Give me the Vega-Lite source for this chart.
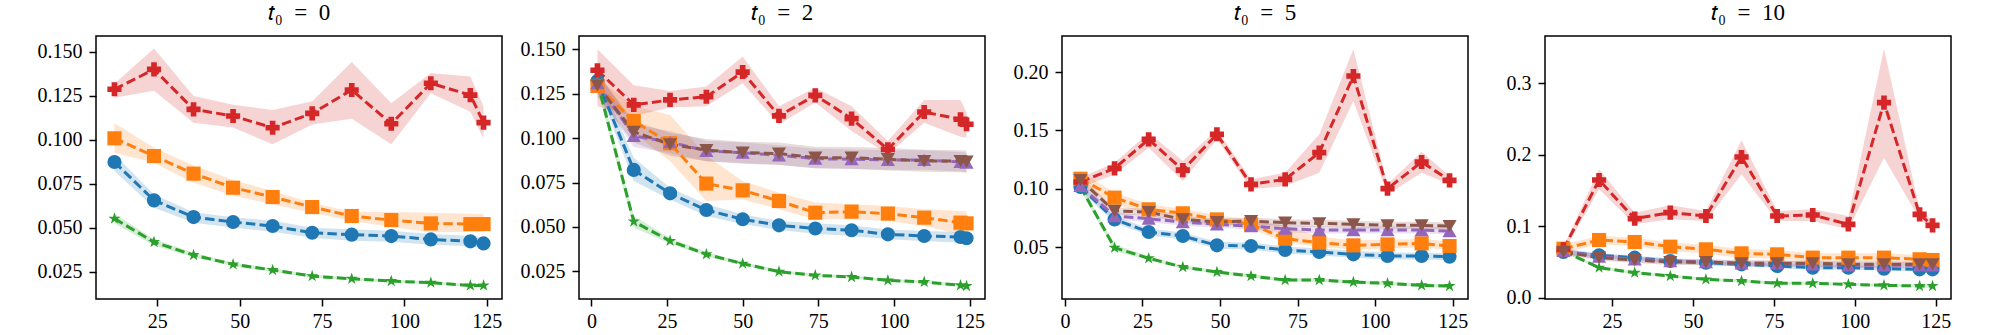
{
  "$schema": "https://vega.github.io/schema/vega-lite/v6.json",
  "padding": {"left": 36, "top": 1, "right": 5, "bottom": 5},
  "background": "white",
  "config": {
    "view": {"stroke": "black", "strokeWidth": 1.5},
    "axis": {"grid": false, "domain": false, "tickColor": "black", "tickWidth": 1.5, "tickSize": 7, "labelFont": "Liberation Serif", "labelFontSize": 20, "labelColor": "black"},
    "title": {"font": "Liberation Serif", "fontSize": 23, "fontWeight": "normal", "color": "black", "baseline": "alphabetic", "offset": 11}
  },
  "datasets": {
    "d": [
      {"p":"0","s":"A","x":12,"y":0.0874,"lo":0.0823,"hi":0.0918},
      {"p":"0","s":"A","x":24,"y":0.0656,"lo":0.0614,"hi":0.0690},
      {"p":"0","s":"A","x":36,"y":0.0561,"lo":0.0529,"hi":0.0589},
      {"p":"0","s":"A","x":48,"y":0.0533,"lo":0.0502,"hi":0.0560},
      {"p":"0","s":"A","x":60,"y":0.0510,"lo":0.0478,"hi":0.0540},
      {"p":"0","s":"A","x":72,"y":0.0472,"lo":0.0443,"hi":0.0500},
      {"p":"0","s":"A","x":84,"y":0.0461,"lo":0.0427,"hi":0.0492},
      {"p":"0","s":"A","x":96,"y":0.0453,"lo":0.0420,"hi":0.0483},
      {"p":"0","s":"A","x":108,"y":0.0434,"lo":0.0403,"hi":0.0465},
      {"p":"0","s":"A","x":120,"y":0.0423,"lo":0.0395,"hi":0.0455},
      {"p":"0","s":"A","x":124,"y":0.0411,"lo":0.0383,"hi":0.0445},
      {"p":"0","s":"B","x":12,"y":0.1009,"lo":0.0927,"hi":0.1094},
      {"p":"0","s":"B","x":24,"y":0.0908,"lo":0.0870,"hi":0.0956},
      {"p":"0","s":"B","x":36,"y":0.0808,"lo":0.0756,"hi":0.0855},
      {"p":"0","s":"B","x":48,"y":0.0728,"lo":0.0684,"hi":0.0772},
      {"p":"0","s":"B","x":60,"y":0.0675,"lo":0.0633,"hi":0.0709},
      {"p":"0","s":"B","x":72,"y":0.0618,"lo":0.0586,"hi":0.0643},
      {"p":"0","s":"B","x":84,"y":0.0567,"lo":0.0538,"hi":0.0590},
      {"p":"0","s":"B","x":96,"y":0.0544,"lo":0.0506,"hi":0.0590},
      {"p":"0","s":"B","x":108,"y":0.0525,"lo":0.0475,"hi":0.0586},
      {"p":"0","s":"B","x":120,"y":0.0521,"lo":0.0478,"hi":0.0580},
      {"p":"0","s":"B","x":124,"y":0.0521,"lo":0.0480,"hi":0.0578},
      {"p":"0","s":"C","x":12,"y":0.0552,"lo":0.0525,"hi":0.0580},
      {"p":"0","s":"C","x":24,"y":0.0419,"lo":0.0400,"hi":0.0437},
      {"p":"0","s":"C","x":36,"y":0.0345,"lo":0.0332,"hi":0.0358},
      {"p":"0","s":"C","x":48,"y":0.0292,"lo":0.0281,"hi":0.0303},
      {"p":"0","s":"C","x":60,"y":0.0260,"lo":0.0250,"hi":0.0270},
      {"p":"0","s":"C","x":72,"y":0.0225,"lo":0.0216,"hi":0.0234},
      {"p":"0","s":"C","x":84,"y":0.0210,"lo":0.0202,"hi":0.0218},
      {"p":"0","s":"C","x":96,"y":0.0197,"lo":0.0189,"hi":0.0205},
      {"p":"0","s":"C","x":108,"y":0.0188,"lo":0.0180,"hi":0.0196},
      {"p":"0","s":"C","x":120,"y":0.0172,"lo":0.0165,"hi":0.0179},
      {"p":"0","s":"C","x":124,"y":0.0172,"lo":0.0165,"hi":0.0179},
      {"p":"0","s":"D","x":12,"y":0.1288,"lo":0.1240,"hi":0.1320},
      {"p":"0","s":"D","x":24,"y":0.1401,"lo":0.1280,"hi":0.1520},
      {"p":"0","s":"D","x":36,"y":0.1174,"lo":0.1098,"hi":0.1250},
      {"p":"0","s":"D","x":48,"y":0.1136,"lo":0.1070,"hi":0.1200},
      {"p":"0","s":"D","x":60,"y":0.1069,"lo":0.0975,"hi":0.1170},
      {"p":"0","s":"D","x":72,"y":0.1151,"lo":0.1088,"hi":0.1220},
      {"p":"0","s":"D","x":84,"y":0.1284,"lo":0.1120,"hi":0.1443},
      {"p":"0","s":"D","x":96,"y":0.1092,"lo":0.0975,"hi":0.1208},
      {"p":"0","s":"D","x":108,"y":0.1322,"lo":0.1265,"hi":0.1380},
      {"p":"0","s":"D","x":120,"y":0.1255,"lo":0.1160,"hi":0.1360},
      {"p":"0","s":"D","x":124,"y":0.1098,"lo":0.1007,"hi":0.1190},

      {"p":"2","s":"A","x":2,"y":0.1322,"lo":0.1284,"hi":0.1360},
      {"p":"2","s":"A","x":14,"y":0.0821,"lo":0.0759,"hi":0.0890},
      {"p":"2","s":"A","x":26,"y":0.0689,"lo":0.0655,"hi":0.0721},
      {"p":"2","s":"A","x":38,"y":0.0595,"lo":0.0561,"hi":0.0627},
      {"p":"2","s":"A","x":50,"y":0.0543,"lo":0.0515,"hi":0.0571},
      {"p":"2","s":"A","x":62,"y":0.0509,"lo":0.0483,"hi":0.0533},
      {"p":"2","s":"A","x":74,"y":0.0491,"lo":0.0462,"hi":0.0520},
      {"p":"2","s":"A","x":86,"y":0.0481,"lo":0.0449,"hi":0.0509},
      {"p":"2","s":"A","x":98,"y":0.0458,"lo":0.0430,"hi":0.0486},
      {"p":"2","s":"A","x":110,"y":0.0449,"lo":0.0421,"hi":0.0477},
      {"p":"2","s":"A","x":122,"y":0.0443,"lo":0.0411,"hi":0.0471},
      {"p":"2","s":"A","x":124,"y":0.0436,"lo":0.0408,"hi":0.0466},
      {"p":"2","s":"B","x":2,"y":0.1294,"lo":0.1256,"hi":0.1340},
      {"p":"2","s":"B","x":14,"y":0.1096,"lo":0.1030,"hi":0.1180},
      {"p":"2","s":"B","x":26,"y":0.0971,"lo":0.0870,"hi":0.1130},
      {"p":"2","s":"B","x":38,"y":0.0744,"lo":0.0646,"hi":0.0900},
      {"p":"2","s":"B","x":50,"y":0.0706,"lo":0.0655,"hi":0.0759},
      {"p":"2","s":"B","x":62,"y":0.0646,"lo":0.0600,"hi":0.0693},
      {"p":"2","s":"B","x":74,"y":0.0580,"lo":0.0543,"hi":0.0637},
      {"p":"2","s":"B","x":86,"y":0.0586,"lo":0.0543,"hi":0.0627},
      {"p":"2","s":"B","x":98,"y":0.0575,"lo":0.0533,"hi":0.0618},
      {"p":"2","s":"B","x":110,"y":0.0552,"lo":0.0505,"hi":0.0599},
      {"p":"2","s":"B","x":122,"y":0.0524,"lo":0.0458,"hi":0.0590},
      {"p":"2","s":"B","x":124,"y":0.0520,"lo":0.0455,"hi":0.0588},
      {"p":"2","s":"C","x":2,"y":0.1316,"lo":0.1275,"hi":0.1350},
      {"p":"2","s":"C","x":14,"y":0.0530,"lo":0.0496,"hi":0.0562},
      {"p":"2","s":"C","x":26,"y":0.0421,"lo":0.0405,"hi":0.0437},
      {"p":"2","s":"C","x":38,"y":0.0346,"lo":0.0334,"hi":0.0358},
      {"p":"2","s":"C","x":50,"y":0.0293,"lo":0.0283,"hi":0.0303},
      {"p":"2","s":"C","x":62,"y":0.0248,"lo":0.0239,"hi":0.0257},
      {"p":"2","s":"C","x":74,"y":0.0227,"lo":0.0219,"hi":0.0235},
      {"p":"2","s":"C","x":86,"y":0.0218,"lo":0.0210,"hi":0.0226},
      {"p":"2","s":"C","x":98,"y":0.0199,"lo":0.0191,"hi":0.0207},
      {"p":"2","s":"C","x":110,"y":0.0190,"lo":0.0182,"hi":0.0198},
      {"p":"2","s":"C","x":122,"y":0.0171,"lo":0.0164,"hi":0.0178},
      {"p":"2","s":"C","x":124,"y":0.0167,"lo":0.0160,"hi":0.0174},
      {"p":"2","s":"D","x":2,"y":0.1382,"lo":0.1180,"hi":0.1500},
      {"p":"2","s":"D","x":14,"y":0.1187,"lo":0.1125,"hi":0.1297},
      {"p":"2","s":"D","x":26,"y":0.1215,"lo":0.1172,"hi":0.1265},
      {"p":"2","s":"D","x":38,"y":0.1233,"lo":0.1180,"hi":0.1290},
      {"p":"2","s":"D","x":50,"y":0.1372,"lo":0.1309,"hi":0.1459},
      {"p":"2","s":"D","x":62,"y":0.1125,"lo":0.1078,"hi":0.1180},
      {"p":"2","s":"D","x":74,"y":0.1241,"lo":0.1200,"hi":0.1284},
      {"p":"2","s":"D","x":86,"y":0.1110,"lo":0.1040,"hi":0.1180},
      {"p":"2","s":"D","x":98,"y":0.0937,"lo":0.0909,"hi":0.0984},
      {"p":"2","s":"D","x":110,"y":0.1147,"lo":0.1087,"hi":0.1215},
      {"p":"2","s":"D","x":122,"y":0.1106,"lo":0.1008,"hi":0.1215},
      {"p":"2","s":"D","x":124,"y":0.1078,"lo":0.1003,"hi":0.1143},
      {"p":"2","s":"E","x":2,"y":0.1309,"lo":0.1250,"hi":0.1370},
      {"p":"2","s":"E","x":14,"y":0.1012,"lo":0.0950,"hi":0.1075},
      {"p":"2","s":"E","x":26,"y":0.0978,"lo":0.0915,"hi":0.1040},
      {"p":"2","s":"E","x":38,"y":0.0928,"lo":0.0870,"hi":0.0985},
      {"p":"2","s":"E","x":50,"y":0.0918,"lo":0.0860,"hi":0.0975},
      {"p":"2","s":"E","x":62,"y":0.0903,"lo":0.0848,"hi":0.0960},
      {"p":"2","s":"E","x":74,"y":0.0884,"lo":0.0830,"hi":0.0940},
      {"p":"2","s":"E","x":86,"y":0.0881,"lo":0.0826,"hi":0.0936},
      {"p":"2","s":"E","x":98,"y":0.0877,"lo":0.0822,"hi":0.0932},
      {"p":"2","s":"E","x":110,"y":0.0877,"lo":0.0822,"hi":0.0932},
      {"p":"2","s":"E","x":122,"y":0.0866,"lo":0.0812,"hi":0.0922},
      {"p":"2","s":"E","x":124,"y":0.0862,"lo":0.0808,"hi":0.0918},
      {"p":"2","s":"F","x":2,"y":0.1297,"lo":0.1230,"hi":0.1365},
      {"p":"2","s":"F","x":14,"y":0.1035,"lo":0.0975,"hi":0.1095},
      {"p":"2","s":"F","x":26,"y":0.0965,"lo":0.0900,"hi":0.1030},
      {"p":"2","s":"F","x":38,"y":0.0933,"lo":0.0870,"hi":0.0995},
      {"p":"2","s":"F","x":50,"y":0.0918,"lo":0.0855,"hi":0.0980},
      {"p":"2","s":"F","x":62,"y":0.0913,"lo":0.0850,"hi":0.0975},
      {"p":"2","s":"F","x":74,"y":0.0890,"lo":0.0830,"hi":0.0952},
      {"p":"2","s":"F","x":86,"y":0.0890,"lo":0.0828,"hi":0.0950},
      {"p":"2","s":"F","x":98,"y":0.0881,"lo":0.0818,"hi":0.0944},
      {"p":"2","s":"F","x":110,"y":0.0871,"lo":0.0810,"hi":0.0934},
      {"p":"2","s":"F","x":122,"y":0.0871,"lo":0.0808,"hi":0.0932},
      {"p":"2","s":"F","x":124,"y":0.0867,"lo":0.0805,"hi":0.0930},

      {"p":"5","s":"A","x":5,"y":0.1016,"lo":0.0986,"hi":0.1046},
      {"p":"5","s":"A","x":16,"y":0.0739,"lo":0.0709,"hi":0.0769},
      {"p":"5","s":"A","x":27,"y":0.0631,"lo":0.0601,"hi":0.0661},
      {"p":"5","s":"A","x":38,"y":0.0597,"lo":0.0567,"hi":0.0627},
      {"p":"5","s":"A","x":49,"y":0.0517,"lo":0.0487,"hi":0.0547},
      {"p":"5","s":"A","x":60,"y":0.0511,"lo":0.0481,"hi":0.0541},
      {"p":"5","s":"A","x":71,"y":0.0477,"lo":0.0447,"hi":0.0507},
      {"p":"5","s":"A","x":82,"y":0.0460,"lo":0.0430,"hi":0.0490},
      {"p":"5","s":"A","x":93,"y":0.0440,"lo":0.0410,"hi":0.0470},
      {"p":"5","s":"A","x":104,"y":0.0426,"lo":0.0396,"hi":0.0456},
      {"p":"5","s":"A","x":115,"y":0.0426,"lo":0.0396,"hi":0.0456},
      {"p":"5","s":"A","x":124,"y":0.0420,"lo":0.0390,"hi":0.0450},
      {"p":"5","s":"B","x":5,"y":0.1087,"lo":0.1025,"hi":0.1153},
      {"p":"5","s":"B","x":16,"y":0.0925,"lo":0.0868,"hi":0.0967},
      {"p":"5","s":"B","x":27,"y":0.0825,"lo":0.0782,"hi":0.0868},
      {"p":"5","s":"B","x":38,"y":0.0791,"lo":0.0755,"hi":0.0830},
      {"p":"5","s":"B","x":49,"y":0.0739,"lo":0.0705,"hi":0.0775},
      {"p":"5","s":"B","x":60,"y":0.0697,"lo":0.0660,"hi":0.0735},
      {"p":"5","s":"B","x":71,"y":0.0574,"lo":0.0540,"hi":0.0690},
      {"p":"5","s":"B","x":82,"y":0.0540,"lo":0.0505,"hi":0.0590},
      {"p":"5","s":"B","x":93,"y":0.0517,"lo":0.0480,"hi":0.0560},
      {"p":"5","s":"B","x":104,"y":0.0525,"lo":0.0490,"hi":0.0565},
      {"p":"5","s":"B","x":115,"y":0.0534,"lo":0.0498,"hi":0.0572},
      {"p":"5","s":"B","x":124,"y":0.0511,"lo":0.0475,"hi":0.0550},
      {"p":"5","s":"C","x":5,"y":0.1019,"lo":0.0989,"hi":0.1049},
      {"p":"5","s":"C","x":16,"y":0.0497,"lo":0.0467,"hi":0.0527},
      {"p":"5","s":"C","x":27,"y":0.0406,"lo":0.0391,"hi":0.0421},
      {"p":"5","s":"C","x":38,"y":0.0331,"lo":0.0316,"hi":0.0346},
      {"p":"5","s":"C","x":49,"y":0.0289,"lo":0.0274,"hi":0.0304},
      {"p":"5","s":"C","x":60,"y":0.0254,"lo":0.0239,"hi":0.0269},
      {"p":"5","s":"C","x":71,"y":0.0220,"lo":0.0205,"hi":0.0235},
      {"p":"5","s":"C","x":82,"y":0.0220,"lo":0.0205,"hi":0.0235},
      {"p":"5","s":"C","x":93,"y":0.0203,"lo":0.0188,"hi":0.0218},
      {"p":"5","s":"C","x":104,"y":0.0192,"lo":0.0177,"hi":0.0207},
      {"p":"5","s":"C","x":115,"y":0.0175,"lo":0.0160,"hi":0.0190},
      {"p":"5","s":"C","x":124,"y":0.0169,"lo":0.0154,"hi":0.0184},
      {"p":"5","s":"D","x":5,"y":0.1059,"lo":0.1010,"hi":0.1096},
      {"p":"5","s":"D","x":16,"y":0.1176,"lo":0.1124,"hi":0.1224},
      {"p":"5","s":"D","x":27,"y":0.1424,"lo":0.1353,"hi":0.1481},
      {"p":"5","s":"D","x":38,"y":0.1161,"lo":0.1067,"hi":0.1238},
      {"p":"5","s":"D","x":49,"y":0.1467,"lo":0.1424,"hi":0.1509},
      {"p":"5","s":"D","x":60,"y":0.1039,"lo":0.0996,"hi":0.1082},
      {"p":"5","s":"D","x":71,"y":0.1082,"lo":0.1025,"hi":0.1139},
      {"p":"5","s":"D","x":82,"y":0.1310,"lo":0.1139,"hi":0.1467},
      {"p":"5","s":"D","x":93,"y":0.1966,"lo":0.1752,"hi":0.2194},
      {"p":"5","s":"D","x":104,"y":0.1002,"lo":0.0953,"hi":0.1039},
      {"p":"5","s":"D","x":115,"y":0.1230,"lo":0.1139,"hi":0.1318},
      {"p":"5","s":"D","x":124,"y":0.1073,"lo":0.1039,"hi":0.1110},
      {"p":"5","s":"E","x":5,"y":0.1025,"lo":0.0995,"hi":0.1055},
      {"p":"5","s":"E","x":16,"y":0.0768,"lo":0.0738,"hi":0.0798},
      {"p":"5","s":"E","x":27,"y":0.0745,"lo":0.0715,"hi":0.0775},
      {"p":"5","s":"E","x":38,"y":0.0716,"lo":0.0686,"hi":0.0746},
      {"p":"5","s":"E","x":49,"y":0.0697,"lo":0.0667,"hi":0.0727},
      {"p":"5","s":"E","x":60,"y":0.0682,"lo":0.0652,"hi":0.0712},
      {"p":"5","s":"E","x":71,"y":0.0659,"lo":0.0629,"hi":0.0689},
      {"p":"5","s":"E","x":82,"y":0.0648,"lo":0.0618,"hi":0.0678},
      {"p":"5","s":"E","x":93,"y":0.0648,"lo":0.0618,"hi":0.0678},
      {"p":"5","s":"E","x":104,"y":0.0648,"lo":0.0618,"hi":0.0678},
      {"p":"5","s":"E","x":115,"y":0.0648,"lo":0.0618,"hi":0.0678},
      {"p":"5","s":"E","x":124,"y":0.0639,"lo":0.0609,"hi":0.0669},
      {"p":"5","s":"F","x":5,"y":0.1076,"lo":0.1046,"hi":0.1106},
      {"p":"5","s":"F","x":16,"y":0.0811,"lo":0.0781,"hi":0.0841},
      {"p":"5","s":"F","x":27,"y":0.0802,"lo":0.0772,"hi":0.0832},
      {"p":"5","s":"F","x":38,"y":0.0739,"lo":0.0709,"hi":0.0769},
      {"p":"5","s":"F","x":49,"y":0.0716,"lo":0.0686,"hi":0.0746},
      {"p":"5","s":"F","x":60,"y":0.0725,"lo":0.0695,"hi":0.0755},
      {"p":"5","s":"F","x":71,"y":0.0711,"lo":0.0681,"hi":0.0741},
      {"p":"5","s":"F","x":82,"y":0.0705,"lo":0.0675,"hi":0.0735},
      {"p":"5","s":"F","x":93,"y":0.0697,"lo":0.0667,"hi":0.0727},
      {"p":"5","s":"F","x":104,"y":0.0688,"lo":0.0658,"hi":0.0718},
      {"p":"5","s":"F","x":115,"y":0.0688,"lo":0.0658,"hi":0.0718},
      {"p":"5","s":"F","x":124,"y":0.0682,"lo":0.0652,"hi":0.0712},

      {"p":"10","s":"A","x":10,"y":0.0642,"lo":0.0612,"hi":0.0672},
      {"p":"10","s":"A","x":21,"y":0.0595,"lo":0.0565,"hi":0.0625},
      {"p":"10","s":"A","x":32,"y":0.0563,"lo":0.0533,"hi":0.0593},
      {"p":"10","s":"A","x":43,"y":0.0516,"lo":0.0486,"hi":0.0546},
      {"p":"10","s":"A","x":54,"y":0.0493,"lo":0.0463,"hi":0.0523},
      {"p":"10","s":"A","x":65,"y":0.0470,"lo":0.0440,"hi":0.0500},
      {"p":"10","s":"A","x":76,"y":0.0447,"lo":0.0417,"hi":0.0477},
      {"p":"10","s":"A","x":87,"y":0.0423,"lo":0.0393,"hi":0.0453},
      {"p":"10","s":"A","x":98,"y":0.0423,"lo":0.0393,"hi":0.0453},
      {"p":"10","s":"A","x":109,"y":0.0409,"lo":0.0379,"hi":0.0439},
      {"p":"10","s":"A","x":120,"y":0.0400,"lo":0.0370,"hi":0.0430},
      {"p":"10","s":"A","x":124,"y":0.0400,"lo":0.0370,"hi":0.0430},
      {"p":"10","s":"B","x":10,"y":0.0688,"lo":0.0628,"hi":0.0748},
      {"p":"10","s":"B","x":21,"y":0.0809,"lo":0.0749,"hi":0.0869},
      {"p":"10","s":"B","x":32,"y":0.0781,"lo":0.0721,"hi":0.0841},
      {"p":"10","s":"B","x":43,"y":0.0716,"lo":0.0656,"hi":0.0776},
      {"p":"10","s":"B","x":54,"y":0.0679,"lo":0.0619,"hi":0.0739},
      {"p":"10","s":"B","x":65,"y":0.0623,"lo":0.0563,"hi":0.0683},
      {"p":"10","s":"B","x":76,"y":0.0609,"lo":0.0549,"hi":0.0669},
      {"p":"10","s":"B","x":87,"y":0.0563,"lo":0.0503,"hi":0.0623},
      {"p":"10","s":"B","x":98,"y":0.0563,"lo":0.0503,"hi":0.0623},
      {"p":"10","s":"B","x":109,"y":0.0563,"lo":0.0503,"hi":0.0623},
      {"p":"10","s":"B","x":120,"y":0.0540,"lo":0.0480,"hi":0.0600},
      {"p":"10","s":"B","x":124,"y":0.0530,"lo":0.0470,"hi":0.0590},
      {"p":"10","s":"C","x":10,"y":0.0656,"lo":0.0636,"hi":0.0676},
      {"p":"10","s":"C","x":21,"y":0.0423,"lo":0.0403,"hi":0.0443},
      {"p":"10","s":"C","x":32,"y":0.0353,"lo":0.0333,"hi":0.0373},
      {"p":"10","s":"C","x":43,"y":0.0307,"lo":0.0287,"hi":0.0327},
      {"p":"10","s":"C","x":54,"y":0.0260,"lo":0.0240,"hi":0.0280},
      {"p":"10","s":"C","x":65,"y":0.0237,"lo":0.0217,"hi":0.0257},
      {"p":"10","s":"C","x":76,"y":0.0205,"lo":0.0185,"hi":0.0225},
      {"p":"10","s":"C","x":87,"y":0.0205,"lo":0.0185,"hi":0.0225},
      {"p":"10","s":"C","x":98,"y":0.0191,"lo":0.0171,"hi":0.0211},
      {"p":"10","s":"C","x":109,"y":0.0177,"lo":0.0157,"hi":0.0197},
      {"p":"10","s":"C","x":120,"y":0.0167,"lo":0.0147,"hi":0.0187},
      {"p":"10","s":"C","x":124,"y":0.0167,"lo":0.0147,"hi":0.0187},
      {"p":"10","s":"D","x":10,"y":0.0679,"lo":0.0640,"hi":0.0720},
      {"p":"10","s":"D","x":21,"y":0.1647,"lo":0.1516,"hi":0.1795},
      {"p":"10","s":"D","x":32,"y":0.1107,"lo":0.1028,"hi":0.1191},
      {"p":"10","s":"D","x":43,"y":0.1191,"lo":0.1098,"hi":0.1293},
      {"p":"10","s":"D","x":54,"y":0.1144,"lo":0.1074,"hi":0.1214},
      {"p":"10","s":"D","x":65,"y":0.1967,"lo":0.1726,"hi":0.2200},
      {"p":"10","s":"D","x":76,"y":0.1144,"lo":0.1074,"hi":0.1214},
      {"p":"10","s":"D","x":87,"y":0.1158,"lo":0.1074,"hi":0.1237},
      {"p":"10","s":"D","x":98,"y":0.1028,"lo":0.0958,"hi":0.1144},
      {"p":"10","s":"D","x":109,"y":0.2726,"lo":0.1958,"hi":0.3479},
      {"p":"10","s":"D","x":120,"y":0.1167,"lo":0.1098,"hi":0.1237},
      {"p":"10","s":"D","x":124,"y":0.1014,"lo":0.0949,"hi":0.1074},
      {"p":"10","s":"E","x":10,"y":0.0656,"lo":0.0616,"hi":0.0696},
      {"p":"10","s":"E","x":21,"y":0.0577,"lo":0.0537,"hi":0.0617},
      {"p":"10","s":"E","x":32,"y":0.0540,"lo":0.0500,"hi":0.0580},
      {"p":"10","s":"E","x":43,"y":0.0516,"lo":0.0476,"hi":0.0556},
      {"p":"10","s":"E","x":54,"y":0.0502,"lo":0.0462,"hi":0.0542},
      {"p":"10","s":"E","x":65,"y":0.0484,"lo":0.0444,"hi":0.0524},
      {"p":"10","s":"E","x":76,"y":0.0484,"lo":0.0444,"hi":0.0524},
      {"p":"10","s":"E","x":87,"y":0.0470,"lo":0.0430,"hi":0.0510},
      {"p":"10","s":"E","x":98,"y":0.0456,"lo":0.0416,"hi":0.0496},
      {"p":"10","s":"E","x":109,"y":0.0456,"lo":0.0416,"hi":0.0496},
      {"p":"10","s":"E","x":120,"y":0.0456,"lo":0.0416,"hi":0.0496},
      {"p":"10","s":"E","x":124,"y":0.0456,"lo":0.0416,"hi":0.0496},
      {"p":"10","s":"F","x":10,"y":0.0642,"lo":0.0602,"hi":0.0682},
      {"p":"10","s":"F","x":21,"y":0.0563,"lo":0.0523,"hi":0.0603},
      {"p":"10","s":"F","x":32,"y":0.0530,"lo":0.0490,"hi":0.0570},
      {"p":"10","s":"F","x":43,"y":0.0502,"lo":0.0462,"hi":0.0542},
      {"p":"10","s":"F","x":54,"y":0.0502,"lo":0.0462,"hi":0.0542},
      {"p":"10","s":"F","x":65,"y":0.0484,"lo":0.0444,"hi":0.0524},
      {"p":"10","s":"F","x":76,"y":0.0484,"lo":0.0444,"hi":0.0524},
      {"p":"10","s":"F","x":87,"y":0.0484,"lo":0.0444,"hi":0.0524},
      {"p":"10","s":"F","x":98,"y":0.0470,"lo":0.0430,"hi":0.0510},
      {"p":"10","s":"F","x":109,"y":0.0470,"lo":0.0430,"hi":0.0510},
      {"p":"10","s":"F","x":120,"y":0.0470,"lo":0.0430,"hi":0.0510},
      {"p":"10","s":"F","x":124,"y":0.0470,"lo":0.0430,"hi":0.0510}
    ]
  },
  "data": {"name": "d"},
  "bounds": "flush",
  "spacing": 77,
  "hconcat": [
    {
      "title": {"text": "𝑡₀\u2002=\u20020", "font": "Liberation Serif", "fontSize": 23},
      "width": 406, "height": 263,
      "transform": [{"filter": "datum.p == '0'"}],
      "encoding": {
        "x": {"field": "x", "type": "quantitative", "title": null, "scale": {"domain": [6.4, 129.6], "nice": false, "zero": false}, "axis": {"values": [25, 50, 75, 100, 125], "labelPadding": 5}},
        "color": {"field": "s", "type": "nominal", "legend": null, "scale": {"domain": ["A","B","C","D","E","F"], "range": ["#1f77b4","#ff7f0e","#2ca02c","#d62728","#9467bd","#8c564b"]}}
      },
      "layer": [
        {"mark": {"type": "area", "opacity": 0.2}, "encoding": {"y": {"field": "lo", "type": "quantitative", "title": null, "scale": {"domain": [0.0095, 0.1591], "nice": false, "zero": false}, "axis": {"values": [0.025, 0.05, 0.075, 0.1, 0.125, 0.15], "format": ".3f", "labelPadding": 7}}, "y2": {"field": "hi"}}},
        {"mark": {"type": "line", "strokeDash": [9.5, 4.2], "strokeWidth": 3}, "encoding": {"y": {"field": "y", "type": "quantitative", "title": null}}},
        {"mark": {"type": "point", "filled": true, "opacity": 1, "size": 200}, "encoding": {"y": {"field": "y", "type": "quantitative", "title": null},
          "shape": {"field": "s", "type": "nominal", "legend": null, "scale": {"domain": ["A","B","C","D","E","F"], "range": ["circle","square","M0,-0.9L0.203,-0.279L0.856,-0.278L0.328,0.107L0.529,0.728L0,0.345L-0.529,0.728L-0.328,0.107L-0.856,-0.278L-0.203,-0.279Z","cross","triangle-up","triangle-down"]}}}}
      ]
    },
    {
      "title": {"text": "𝑡₀\u2002=\u20022", "font": "Liberation Serif", "fontSize": 23},
      "width": 406, "height": 263,
      "transform": [{"filter": "datum.p == '2'"}],
      "encoding": {
        "x": {"field": "x", "type": "quantitative", "title": null, "scale": {"domain": [-4.1, 130.1], "nice": false, "zero": false}, "axis": {"values": [0, 25, 50, 75, 100, 125], "labelPadding": 5}},
        "color": {"field": "s", "type": "nominal", "legend": null, "scale": {"domain": ["A","B","C","D","E","F"], "range": ["#1f77b4","#ff7f0e","#2ca02c","#d62728","#9467bd","#8c564b"]}}
      },
      "layer": [
        {"mark": {"type": "area", "opacity": 0.2}, "encoding": {"y": {"field": "lo", "type": "quantitative", "title": null, "scale": {"domain": [0.0094, 0.1575], "nice": false, "zero": false}, "axis": {"values": [0.025, 0.05, 0.075, 0.1, 0.125, 0.15], "format": ".3f", "labelPadding": 7}}, "y2": {"field": "hi"}}},
        {"mark": {"type": "line", "strokeDash": [9.5, 4.2], "strokeWidth": 3}, "encoding": {"y": {"field": "y", "type": "quantitative", "title": null}}},
        {"mark": {"type": "point", "filled": true, "opacity": 1, "size": 200}, "encoding": {"y": {"field": "y", "type": "quantitative", "title": null},
          "shape": {"field": "s", "type": "nominal", "legend": null, "scale": {"domain": ["A","B","C","D","E","F"], "range": ["circle","square","M0,-0.9L0.203,-0.279L0.856,-0.278L0.328,0.107L0.529,0.728L0,0.345L-0.529,0.728L-0.328,0.107L-0.856,-0.278L-0.203,-0.279Z","cross","triangle-up","triangle-down"]}}}}
      ]
    },
    {
      "title": {"text": "𝑡₀\u2002=\u20025", "font": "Liberation Serif", "fontSize": 23},
      "width": 406, "height": 263,
      "transform": [{"filter": "datum.p == '5'"}],
      "encoding": {
        "x": {"field": "x", "type": "quantitative", "title": null, "scale": {"domain": [-0.95, 129.95], "nice": false, "zero": false}, "axis": {"values": [0, 25, 50, 75, 100, 125], "labelPadding": 5}},
        "color": {"field": "s", "type": "nominal", "legend": null, "scale": {"domain": ["A","B","C","D","E","F"], "range": ["#1f77b4","#ff7f0e","#2ca02c","#d62728","#9467bd","#8c564b"]}}
      },
      "layer": [
        {"mark": {"type": "area", "opacity": 0.2}, "encoding": {"y": {"field": "lo", "type": "quantitative", "title": null, "scale": {"domain": [0.0058, 0.2308], "nice": false, "zero": false}, "axis": {"values": [0.05, 0.1, 0.15, 0.2], "format": ".2f", "labelPadding": 7}}, "y2": {"field": "hi"}}},
        {"mark": {"type": "line", "strokeDash": [9.5, 4.2], "strokeWidth": 3}, "encoding": {"y": {"field": "y", "type": "quantitative", "title": null}}},
        {"mark": {"type": "point", "filled": true, "opacity": 1, "size": 200}, "encoding": {"y": {"field": "y", "type": "quantitative", "title": null},
          "shape": {"field": "s", "type": "nominal", "legend": null, "scale": {"domain": ["A","B","C","D","E","F"], "range": ["circle","square","M0,-0.9L0.203,-0.279L0.856,-0.278L0.328,0.107L0.529,0.728L0,0.345L-0.529,0.728L-0.328,0.107L-0.856,-0.278L-0.203,-0.279Z","cross","triangle-up","triangle-down"]}}}}
      ]
    },
    {
      "title": {"text": "𝑡₀\u2002=\u200210", "font": "Liberation Serif", "fontSize": 23},
      "width": 406, "height": 263,
      "transform": [{"filter": "datum.p == '10'"}],
      "encoding": {
        "x": {"field": "x", "type": "quantitative", "title": null, "scale": {"domain": [4.3, 129.7], "nice": false, "zero": false}, "axis": {"values": [25, 50, 75, 100, 125], "labelPadding": 5}},
        "color": {"field": "s", "type": "nominal", "legend": null, "scale": {"domain": ["A","B","C","D","E","F"], "range": ["#1f77b4","#ff7f0e","#2ca02c","#d62728","#9467bd","#8c564b"]}}
      },
      "layer": [
        {"mark": {"type": "area", "opacity": 0.2}, "encoding": {"y": {"field": "lo", "type": "quantitative", "title": null, "scale": {"domain": [-0.0014, 0.3656], "nice": false, "zero": false}, "axis": {"values": [0, 0.1, 0.2, 0.3], "format": ".1f", "labelPadding": 7}}, "y2": {"field": "hi"}}},
        {"mark": {"type": "line", "strokeDash": [9.5, 4.2], "strokeWidth": 3}, "encoding": {"y": {"field": "y", "type": "quantitative", "title": null}}},
        {"mark": {"type": "point", "filled": true, "opacity": 1, "size": 200}, "encoding": {"y": {"field": "y", "type": "quantitative", "title": null},
          "shape": {"field": "s", "type": "nominal", "legend": null, "scale": {"domain": ["A","B","C","D","E","F"], "range": ["circle","square","M0,-0.9L0.203,-0.279L0.856,-0.278L0.328,0.107L0.529,0.728L0,0.345L-0.529,0.728L-0.328,0.107L-0.856,-0.278L-0.203,-0.279Z","cross","triangle-up","triangle-down"]}}}}
      ]
    }
  ]
}
